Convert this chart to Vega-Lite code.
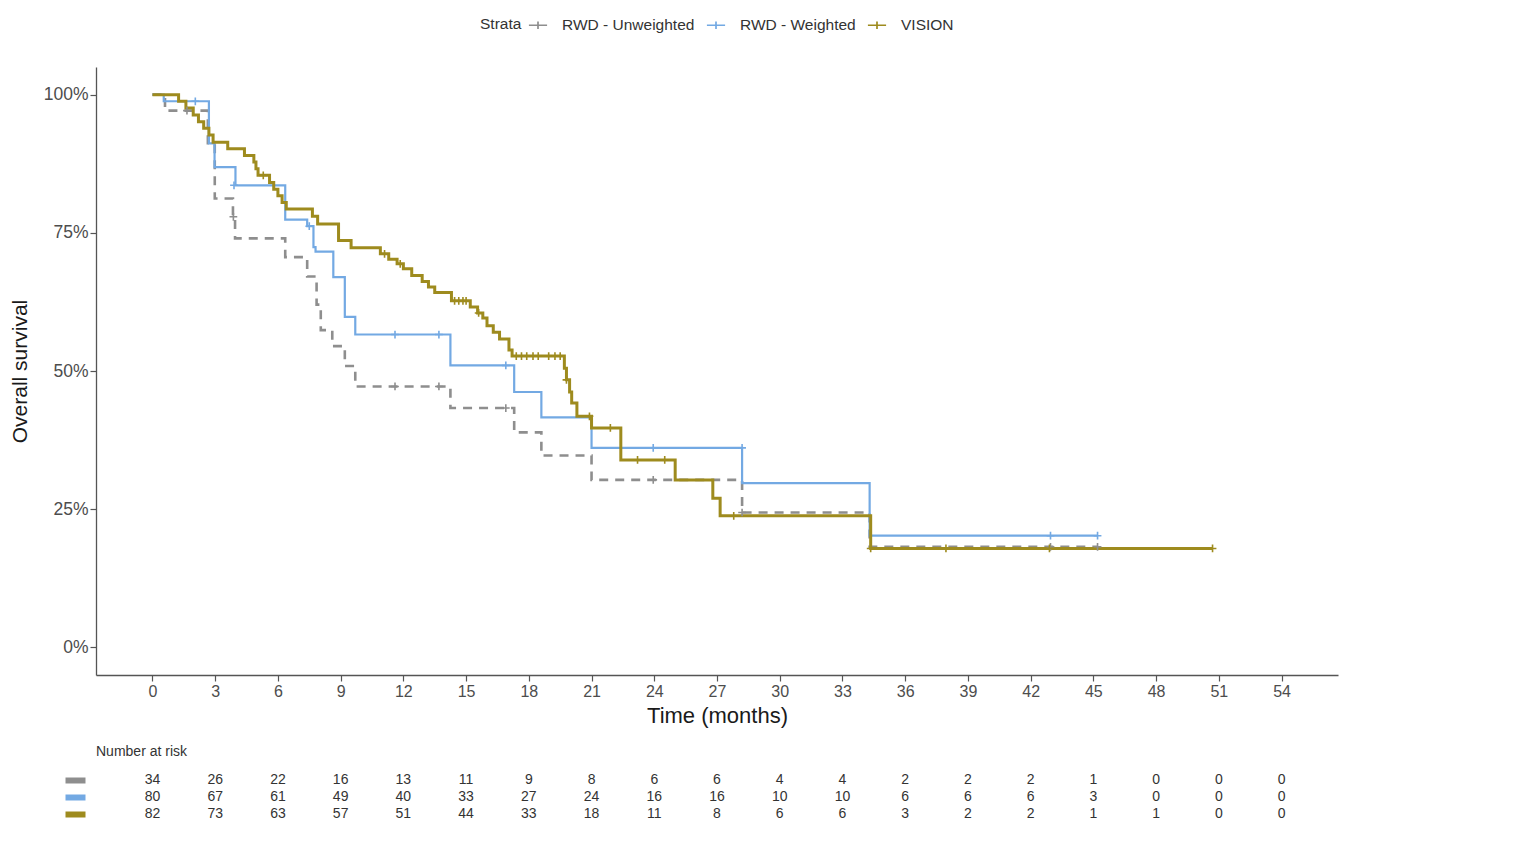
{
  "$schema": "https://vega.github.io/schema/vega-lite/v6.json",
  "background": "white",
  "padding": {"left": 9, "top": 15, "right": 5, "bottom": 5},
  "config": {
    "font": "Liberation Sans",
    "view": {"stroke": null},
    "axis": {"labelFont": "Liberation Sans", "titleFont": "Liberation Sans", "labelColor": "#4d4d4d", "titleColor": "#1a1a1a", "domainColor": "#555555", "tickColor": "#555555", "domainWidth": 1.3, "tickWidth": 1.2, "grid": false, "titleFontWeight": "normal"},
    "legend": {"labelFont": "Liberation Sans", "titleFont": "Liberation Sans"}
  },
  "spacing": 19,
  "datasets": {
    "curves": [
      {"strata": "RWD - Unweighted", "t": 0, "s": 1},
      {"strata": "RWD - Unweighted", "t": 0.6, "s": 0.971},
      {"strata": "RWD - Unweighted", "t": 2.65, "s": 0.912},
      {"strata": "RWD - Unweighted", "t": 2.98, "s": 0.812},
      {"strata": "RWD - Unweighted", "t": 3.85, "s": 0.779},
      {"strata": "RWD - Unweighted", "t": 3.95, "s": 0.74},
      {"strata": "RWD - Unweighted", "t": 6.35, "s": 0.706},
      {"strata": "RWD - Unweighted", "t": 7.4, "s": 0.671},
      {"strata": "RWD - Unweighted", "t": 7.85, "s": 0.62},
      {"strata": "RWD - Unweighted", "t": 8.05, "s": 0.574},
      {"strata": "RWD - Unweighted", "t": 8.6, "s": 0.545},
      {"strata": "RWD - Unweighted", "t": 9.2, "s": 0.509},
      {"strata": "RWD - Unweighted", "t": 9.7, "s": 0.472},
      {"strata": "RWD - Unweighted", "t": 14.25, "s": 0.433},
      {"strata": "RWD - Unweighted", "t": 17.3, "s": 0.389},
      {"strata": "RWD - Unweighted", "t": 18.6, "s": 0.347},
      {"strata": "RWD - Unweighted", "t": 21.0, "s": 0.303},
      {"strata": "RWD - Unweighted", "t": 28.2, "s": 0.244},
      {"strata": "RWD - Unweighted", "t": 34.3, "s": 0.182},
      {"strata": "RWD - Unweighted", "t": 45.2, "s": 0.182},
      {"strata": "RWD - Weighted", "t": 0, "s": 1},
      {"strata": "RWD - Weighted", "t": 0.54, "s": 0.988},
      {"strata": "RWD - Weighted", "t": 2.7, "s": 0.912},
      {"strata": "RWD - Weighted", "t": 2.97, "s": 0.869},
      {"strata": "RWD - Weighted", "t": 3.97, "s": 0.836},
      {"strata": "RWD - Weighted", "t": 6.35, "s": 0.774},
      {"strata": "RWD - Weighted", "t": 7.4, "s": 0.762},
      {"strata": "RWD - Weighted", "t": 7.7, "s": 0.724},
      {"strata": "RWD - Weighted", "t": 7.8, "s": 0.716},
      {"strata": "RWD - Weighted", "t": 8.65, "s": 0.67},
      {"strata": "RWD - Weighted", "t": 9.2, "s": 0.598},
      {"strata": "RWD - Weighted", "t": 9.7, "s": 0.566},
      {"strata": "RWD - Weighted", "t": 14.25, "s": 0.51},
      {"strata": "RWD - Weighted", "t": 17.3, "s": 0.462},
      {"strata": "RWD - Weighted", "t": 18.6, "s": 0.416},
      {"strata": "RWD - Weighted", "t": 21.0, "s": 0.361},
      {"strata": "RWD - Weighted", "t": 28.2, "s": 0.297},
      {"strata": "RWD - Weighted", "t": 34.3, "s": 0.202},
      {"strata": "RWD - Weighted", "t": 45.2, "s": 0.202},
      {"strata": "VISION", "t": 0, "s": 1},
      {"strata": "VISION", "t": 1.25, "s": 0.988},
      {"strata": "VISION", "t": 1.6, "s": 0.976},
      {"strata": "VISION", "t": 1.95, "s": 0.963},
      {"strata": "VISION", "t": 2.2, "s": 0.951},
      {"strata": "VISION", "t": 2.45, "s": 0.939},
      {"strata": "VISION", "t": 2.7, "s": 0.927},
      {"strata": "VISION", "t": 2.9, "s": 0.914},
      {"strata": "VISION", "t": 3.6, "s": 0.902},
      {"strata": "VISION", "t": 4.4, "s": 0.89},
      {"strata": "VISION", "t": 4.85, "s": 0.878},
      {"strata": "VISION", "t": 4.95, "s": 0.866},
      {"strata": "VISION", "t": 5.05, "s": 0.854},
      {"strata": "VISION", "t": 5.6, "s": 0.841},
      {"strata": "VISION", "t": 5.8, "s": 0.829},
      {"strata": "VISION", "t": 6.0, "s": 0.817},
      {"strata": "VISION", "t": 6.2, "s": 0.805},
      {"strata": "VISION", "t": 6.4, "s": 0.793},
      {"strata": "VISION", "t": 7.65, "s": 0.78},
      {"strata": "VISION", "t": 7.9, "s": 0.766},
      {"strata": "VISION", "t": 8.9, "s": 0.736},
      {"strata": "VISION", "t": 9.5, "s": 0.723},
      {"strata": "VISION", "t": 10.9, "s": 0.712},
      {"strata": "VISION", "t": 11.3, "s": 0.702},
      {"strata": "VISION", "t": 11.7, "s": 0.694},
      {"strata": "VISION", "t": 12.0, "s": 0.685},
      {"strata": "VISION", "t": 12.4, "s": 0.673},
      {"strata": "VISION", "t": 12.9, "s": 0.662},
      {"strata": "VISION", "t": 13.2, "s": 0.652},
      {"strata": "VISION", "t": 13.5, "s": 0.642},
      {"strata": "VISION", "t": 14.3, "s": 0.627},
      {"strata": "VISION", "t": 15.2, "s": 0.616},
      {"strata": "VISION", "t": 15.55, "s": 0.605},
      {"strata": "VISION", "t": 15.8, "s": 0.596},
      {"strata": "VISION", "t": 16.0, "s": 0.582},
      {"strata": "VISION", "t": 16.3, "s": 0.57},
      {"strata": "VISION", "t": 16.6, "s": 0.558},
      {"strata": "VISION", "t": 17.05, "s": 0.538},
      {"strata": "VISION", "t": 17.2, "s": 0.527},
      {"strata": "VISION", "t": 19.7, "s": 0.505},
      {"strata": "VISION", "t": 19.8, "s": 0.484},
      {"strata": "VISION", "t": 19.95, "s": 0.462},
      {"strata": "VISION", "t": 20.05, "s": 0.442},
      {"strata": "VISION", "t": 20.3, "s": 0.418},
      {"strata": "VISION", "t": 21.0, "s": 0.397},
      {"strata": "VISION", "t": 22.4, "s": 0.339},
      {"strata": "VISION", "t": 25.0, "s": 0.303},
      {"strata": "VISION", "t": 26.8, "s": 0.27},
      {"strata": "VISION", "t": 27.15, "s": 0.238},
      {"strata": "VISION", "t": 34.35, "s": 0.179},
      {"strata": "VISION", "t": 50.7, "s": 0.179}
    ],
    "censors": [
      {"strata": "RWD - Unweighted", "t": 1.65, "s": 0.971},
      {"strata": "RWD - Unweighted", "t": 3.87, "s": 0.779},
      {"strata": "RWD - Unweighted", "t": 11.6, "s": 0.472},
      {"strata": "RWD - Unweighted", "t": 13.7, "s": 0.472},
      {"strata": "RWD - Unweighted", "t": 16.9, "s": 0.433},
      {"strata": "RWD - Unweighted", "t": 23.95, "s": 0.303},
      {"strata": "RWD - Unweighted", "t": 28.2, "s": 0.244},
      {"strata": "RWD - Unweighted", "t": 42.95, "s": 0.182},
      {"strata": "RWD - Unweighted", "t": 45.2, "s": 0.182},
      {"strata": "RWD - Weighted", "t": 2.05, "s": 0.988},
      {"strata": "RWD - Weighted", "t": 3.9, "s": 0.836},
      {"strata": "RWD - Weighted", "t": 7.5, "s": 0.762},
      {"strata": "RWD - Weighted", "t": 11.6, "s": 0.566},
      {"strata": "RWD - Weighted", "t": 13.7, "s": 0.566},
      {"strata": "RWD - Weighted", "t": 16.9, "s": 0.51},
      {"strata": "RWD - Weighted", "t": 23.95, "s": 0.361},
      {"strata": "RWD - Weighted", "t": 28.2, "s": 0.361},
      {"strata": "RWD - Weighted", "t": 42.95, "s": 0.202},
      {"strata": "RWD - Weighted", "t": 45.2, "s": 0.202},
      {"strata": "VISION", "t": 5.3, "s": 0.854},
      {"strata": "VISION", "t": 11.1, "s": 0.712},
      {"strata": "VISION", "t": 11.85, "s": 0.694},
      {"strata": "VISION", "t": 14.45, "s": 0.627},
      {"strata": "VISION", "t": 14.65, "s": 0.627},
      {"strata": "VISION", "t": 14.85, "s": 0.627},
      {"strata": "VISION", "t": 15.0, "s": 0.627},
      {"strata": "VISION", "t": 15.6, "s": 0.605},
      {"strata": "VISION", "t": 17.4, "s": 0.527},
      {"strata": "VISION", "t": 17.65, "s": 0.527},
      {"strata": "VISION", "t": 17.9, "s": 0.527},
      {"strata": "VISION", "t": 18.2, "s": 0.527},
      {"strata": "VISION", "t": 18.45, "s": 0.527},
      {"strata": "VISION", "t": 18.95, "s": 0.527},
      {"strata": "VISION", "t": 19.25, "s": 0.527},
      {"strata": "VISION", "t": 19.5, "s": 0.527},
      {"strata": "VISION", "t": 19.8, "s": 0.484},
      {"strata": "VISION", "t": 20.9, "s": 0.418},
      {"strata": "VISION", "t": 21.9, "s": 0.397},
      {"strata": "VISION", "t": 23.2, "s": 0.339},
      {"strata": "VISION", "t": 24.5, "s": 0.339},
      {"strata": "VISION", "t": 27.8, "s": 0.238},
      {"strata": "VISION", "t": 34.35, "s": 0.179},
      {"strata": "VISION", "t": 37.95, "s": 0.179},
      {"strata": "VISION", "t": 42.9, "s": 0.179},
      {"strata": "VISION", "t": 50.7, "s": 0.179}
    ],
    "risk": [
      {"strata": "RWD - Unweighted", "t": 0, "n": 34}, {"strata": "RWD - Unweighted", "t": 3, "n": 26}, {"strata": "RWD - Unweighted", "t": 6, "n": 22}, {"strata": "RWD - Unweighted", "t": 9, "n": 16}, {"strata": "RWD - Unweighted", "t": 12, "n": 13}, {"strata": "RWD - Unweighted", "t": 15, "n": 11}, {"strata": "RWD - Unweighted", "t": 18, "n": 9}, {"strata": "RWD - Unweighted", "t": 21, "n": 8}, {"strata": "RWD - Unweighted", "t": 24, "n": 6}, {"strata": "RWD - Unweighted", "t": 27, "n": 6}, {"strata": "RWD - Unweighted", "t": 30, "n": 4}, {"strata": "RWD - Unweighted", "t": 33, "n": 4}, {"strata": "RWD - Unweighted", "t": 36, "n": 2}, {"strata": "RWD - Unweighted", "t": 39, "n": 2}, {"strata": "RWD - Unweighted", "t": 42, "n": 2}, {"strata": "RWD - Unweighted", "t": 45, "n": 1}, {"strata": "RWD - Unweighted", "t": 48, "n": 0}, {"strata": "RWD - Unweighted", "t": 51, "n": 0}, {"strata": "RWD - Unweighted", "t": 54, "n": 0},
      {"strata": "RWD - Weighted", "t": 0, "n": 80}, {"strata": "RWD - Weighted", "t": 3, "n": 67}, {"strata": "RWD - Weighted", "t": 6, "n": 61}, {"strata": "RWD - Weighted", "t": 9, "n": 49}, {"strata": "RWD - Weighted", "t": 12, "n": 40}, {"strata": "RWD - Weighted", "t": 15, "n": 33}, {"strata": "RWD - Weighted", "t": 18, "n": 27}, {"strata": "RWD - Weighted", "t": 21, "n": 24}, {"strata": "RWD - Weighted", "t": 24, "n": 16}, {"strata": "RWD - Weighted", "t": 27, "n": 16}, {"strata": "RWD - Weighted", "t": 30, "n": 10}, {"strata": "RWD - Weighted", "t": 33, "n": 10}, {"strata": "RWD - Weighted", "t": 36, "n": 6}, {"strata": "RWD - Weighted", "t": 39, "n": 6}, {"strata": "RWD - Weighted", "t": 42, "n": 6}, {"strata": "RWD - Weighted", "t": 45, "n": 3}, {"strata": "RWD - Weighted", "t": 48, "n": 0}, {"strata": "RWD - Weighted", "t": 51, "n": 0}, {"strata": "RWD - Weighted", "t": 54, "n": 0},
      {"strata": "VISION", "t": 0, "n": 82}, {"strata": "VISION", "t": 3, "n": 73}, {"strata": "VISION", "t": 6, "n": 63}, {"strata": "VISION", "t": 9, "n": 57}, {"strata": "VISION", "t": 12, "n": 51}, {"strata": "VISION", "t": 15, "n": 44}, {"strata": "VISION", "t": 18, "n": 33}, {"strata": "VISION", "t": 21, "n": 18}, {"strata": "VISION", "t": 24, "n": 11}, {"strata": "VISION", "t": 27, "n": 8}, {"strata": "VISION", "t": 30, "n": 6}, {"strata": "VISION", "t": 33, "n": 6}, {"strata": "VISION", "t": 36, "n": 3}, {"strata": "VISION", "t": 39, "n": 2}, {"strata": "VISION", "t": 42, "n": 2}, {"strata": "VISION", "t": 45, "n": 1}, {"strata": "VISION", "t": 48, "n": 1}, {"strata": "VISION", "t": 51, "n": 0}, {"strata": "VISION", "t": 54, "n": 0}
    ]
  },
  "vconcat": [
    {
      "width": 1242,
      "height": 608,
      "encoding": {
        "x": {"field": "t", "type": "quantitative", "scale": {"domain": [-2.7, 56.7], "nice": false, "zero": false},
              "axis": {"values": [0, 3, 6, 9, 12, 15, 18, 21, 24, 27, 30, 33, 36, 39, 42, 45, 48, 51, 54], "title": "Time (months)", "titleFontSize": 22, "labelFontSize": 16, "tickSize": 6, "labelPadding": 2, "titlePadding": 6}},
        "y": {"field": "s", "type": "quantitative", "scale": {"domain": [-0.05, 1.05], "nice": false, "zero": false},
              "axis": {"values": [0, 0.25, 0.5, 0.75, 1], "format": ".0%", "title": "Overall survival", "titleFontSize": 21, "labelFontSize": 17.5, "tickSize": 6, "labelPadding": 2, "titlePadding": 13}},
        "color": {"field": "strata", "type": "nominal",
                  "scale": {"domain": ["RWD - Unweighted", "RWD - Weighted", "VISION"], "range": ["#8e8e8e", "#73a9e3", "#9e8b1e"]},
                  "legend": {"orient": "none", "legendX": 384, "legendY": -52, "direction": "horizontal", "title": "Strata", "titleOrient": "left", "titlePadding": 6, "titleFontSize": 15.5, "titleFontWeight": "normal", "titleColor": "#333333", "labelFontSize": 15.5, "labelColor": "#333333", "labelOffset": 14, "symbolType": "M-1,0L1,0M0,-0.4L0,0.4", "symbolSize": 330, "symbolStrokeWidth": 1.7, "columnPadding": 8}}
      },
      "layer": [
        {"data": {"name": "curves"}, "transform": [{"filter": "datum.strata === 'RWD - Unweighted'"}],
         "mark": {"type": "line", "interpolate": "step-after", "strokeWidth": 2.6, "strokeDash": [9, 7]}},
        {"data": {"name": "curves"}, "transform": [{"filter": "datum.strata === 'RWD - Weighted'"}],
         "mark": {"type": "line", "interpolate": "step-after", "strokeWidth": 2.2}},
        {"data": {"name": "curves"}, "transform": [{"filter": "datum.strata === 'VISION'"}],
         "mark": {"type": "line", "interpolate": "step-after", "strokeWidth": 3}},
        {"data": {"name": "censors"},
         "mark": {"type": "point", "shape": "M-1,0L1,0M0,-1L0,1", "filled": false, "size": 60, "strokeWidth": 1.6, "opacity": 1}}
      ]
    },
    {
      "width": 1242,
      "height": 51,
      "data": {"name": "risk"},
      "title": {"text": "Number at risk", "anchor": "start", "frame": "group", "fontSize": 14, "fontWeight": "normal", "color": "#333333", "font": "Liberation Sans", "offset": 12},
      "mark": {"type": "text", "fontSize": 14, "color": "#333333"},
      "encoding": {
        "x": {"field": "t", "type": "quantitative", "scale": {"domain": [-2.7, 56.7], "nice": false, "zero": false}, "axis": null},
        "y": {"field": "strata", "type": "nominal", "scale": {"domain": ["RWD - Unweighted", "RWD - Weighted", "VISION"]},
              "axis": {"title": null, "domain": false, "labels": false, "ticks": true, "offset": 11, "tickSize": 20, "tickWidth": 6, "tickCap": "butt",
                       "tickColor": {"expr": "datum.value === 'VISION' ? '#9e8b1e' : datum.value === 'RWD - Weighted' ? '#73a9e3' : '#8e8e8e'"}}},
        "text": {"field": "n", "type": "quantitative"}
      }
    }
  ]
}
